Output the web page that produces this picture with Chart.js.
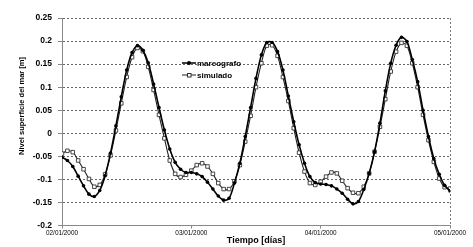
<!DOCTYPE html>
<html>
<head>
<meta charset="utf-8">
<script src="https://cdn.jsdelivr.net/npm/chart.js@4/dist/chart.umd.min.js"></script>
<style>
  html, body { margin: 0; padding: 0; background: #fff; }
  #wrap { width: 473px; height: 247px; position: relative; }
</style>
</head>
<body>
<div id="wrap"><canvas id="chart"></canvas></div>
<script>
// eje x: horas desde 02/01/2000 00:00, etiquetas cada 24 h
const dayLabels = ['02/01/2000', '03/01/2000', '04/01/2000', '05/01/2000'];
const hours = Array.from({length: 73}, (_, i) => i);

// nivel observado (mareógrafo) [m]
const mareografo = [
  -0.052, -0.059, -0.072, -0.093, -0.114, -0.132, -0.137, -0.124, -0.092, -0.043,
   0.016,  0.079,  0.137,  0.175,  0.190,  0.180,  0.153,  0.107,  0.056,  0.007,
  -0.034, -0.063, -0.078, -0.085, -0.085, -0.088, -0.094, -0.106, -0.121, -0.136,
  -0.145, -0.141, -0.108, -0.065, -0.007,  0.056,  0.119,  0.170,  0.197,  0.197,
   0.177,  0.137,  0.081,  0.025, -0.025, -0.065, -0.094, -0.107, -0.110, -0.111,
  -0.114, -0.121, -0.130, -0.143, -0.153, -0.148, -0.122, -0.087, -0.040,  0.022,
   0.092,  0.152,  0.191,  0.208,  0.199,  0.160,  0.112,  0.050, -0.007, -0.055,
  -0.089, -0.113, -0.125
];

// nivel simulado [m]
const simulado = [
  -0.044, -0.038, -0.041, -0.059, -0.078, -0.099, -0.116, -0.112, -0.089, -0.048,
   0.006,  0.065,  0.122,  0.165,  0.185,  0.178,  0.144,  0.094,  0.040, -0.011,
  -0.059, -0.088, -0.095, -0.090, -0.081, -0.069, -0.065, -0.072, -0.088, -0.108,
  -0.121, -0.121, -0.104, -0.069, -0.018,  0.038,  0.100,  0.152,  0.190,  0.191,
   0.168,  0.122,  0.070,  0.011, -0.042, -0.083, -0.108, -0.112, -0.105, -0.094,
  -0.085, -0.087, -0.103, -0.119, -0.129, -0.130, -0.116, -0.087, -0.040,  0.014,
   0.074,  0.134,  0.177,  0.196,  0.190,  0.152,  0.100,  0.040, -0.015, -0.062,
  -0.098, -0.117, -0.120
];

const FONT = "'Liberation Sans', Arial, sans-serif";

// título del eje y y leyenda dentro del área de trazado
const extras = {
  id: 'extras',
  afterDraw(chart) {
    const ctx = chart.ctx;
    ctx.save();
    ctx.fillStyle = '#000';
    ctx.font = 'bold 7.5px ' + FONT;
    ctx.textAlign = 'center';
    ctx.textBaseline = 'middle';
    ctx.translate(22, 106);
    ctx.rotate(-Math.PI / 2);
    ctx.fillText('Nivel superficie del mar [m]', 0, 0);
    ctx.restore();

    ctx.save();
    ctx.font = 'bold 8px ' + FONT;
    ctx.textBaseline = 'middle';
    ctx.textAlign = 'left';
    // mareografo
    ctx.strokeStyle = '#000';
    ctx.lineWidth = 1.5;
    ctx.beginPath(); ctx.moveTo(182, 63); ctx.lineTo(196, 63); ctx.stroke();
    ctx.fillStyle = '#000';
    ctx.beginPath(); ctx.arc(189, 63, 2, 0, Math.PI * 2); ctx.fill();
    ctx.fillText('mareografo', 197, 63.5);
    // simulado
    ctx.strokeStyle = '#222';
    ctx.lineWidth = 1;
    ctx.beginPath(); ctx.moveTo(182, 75); ctx.lineTo(196, 75); ctx.stroke();
    ctx.fillStyle = '#fff';
    ctx.fillRect(187.5, 73.5, 3.5, 3.5);
    ctx.strokeStyle = '#333';
    ctx.strokeRect(187.5, 73.5, 3.5, 3.5);
    ctx.fillStyle = '#000';
    ctx.fillText('simulado', 197, 75.5);
    ctx.restore();
  }
};

new Chart(document.getElementById('chart'), {
  type: 'line',
  data: {
    labels: hours,
    datasets: [
      {
        label: 'mareografo',
        data: mareografo,
        borderColor: '#000',
        borderWidth: 1.6,
        pointStyle: 'circle',
        pointRadius: 1.8,
        pointBackgroundColor: '#000',
        pointBorderColor: '#000',
        pointBorderWidth: 0,
        tension: 0.33,
      },
      {
        label: 'simulado',
        data: simulado,
        borderColor: '#222',
        borderWidth: 1.1,
        pointStyle: 'rect',
        pointRadius: 2.5,
        pointBackgroundColor: '#fff',
        pointBorderColor: '#333',
        pointBorderWidth: 0.9,
        tension: 0.33,
      }
    ]
  },
  options: {
    responsive: true,
    maintainAspectRatio: false,
    animation: false,
    layout: {padding: {left: 0, right: 23, top: 18, bottom: 0}},
    plugins: {
      legend: {display: false},
      tooltip: {enabled: false}
    },
    scales: {
      x: {
        type: 'linear',
        min: 0,
        max: 72,
        afterFit: s => { s.height = 21.5; },
        ticks: {
          stepSize: 24,
          autoSkip: false,
          maxRotation: 0,
          padding: 1,
          color: '#000',
          font: {family: FONT, size: 6.4},
          callback: v => dayLabels[v / 24]
        },
        grid: {
          color: c => (c.tick && c.tick.value === 72) ? '#777' : 'rgba(0,0,0,0)',
          tickColor: '#888',
          tickLength: 3,
          lineWidth: 1
        },
        border: {color: '#888', width: 1, dash: [2, 2]},
        title: {
          display: true,
          text: 'Tiempo [días]',
          color: '#000',
          font: {family: FONT, size: 9, weight: 'bold'},
          padding: {top: 0, bottom: 1.5}
        }
      },
      y: {
        min: -0.2,
        max: 0.25,
        afterFit: s => { s.width = 62; },
        ticks: {
          stepSize: 0.05,
          padding: 6,
          color: '#000',
          font: {family: FONT, size: 8.5, weight: 'bold'},
          callback: v => String(Number(v.toFixed(2)))
        },
        grid: {
          color: '#666',
          tickColor: '#888',
          tickLength: 4,
          lineWidth: 1
        },
        border: {color: '#888', width: 1, dash: [2, 2]}
      }
    }
  },
  plugins: [extras]
});
</script>
</body>
</html>
